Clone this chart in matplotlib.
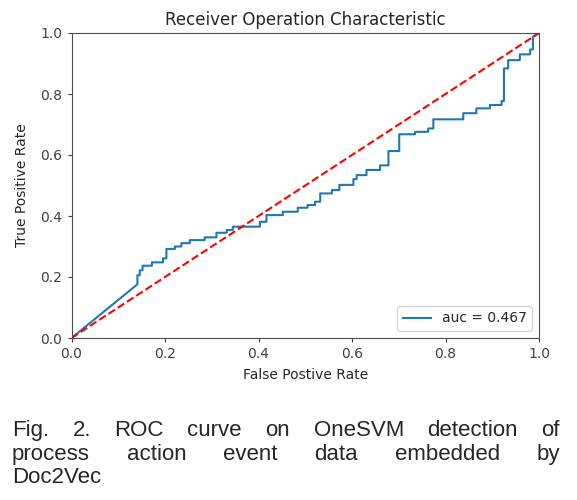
import matplotlib
matplotlib.use('Agg')
import matplotlib.pyplot as plt
import numpy as np

plt.rcParams['font.family'] = ['DejaVu Sans']

# ROC curve vertices
fpr = [0.0, 0.141, 0.141, 0.146, 0.146, 0.152, 0.152, 0.172, 0.172, 0.196, 0.196,
       0.203, 0.203, 0.221, 0.221, 0.235, 0.235, 0.253, 0.253, 0.285, 0.285,
       0.310, 0.310, 0.332, 0.332, 0.345, 0.345, 0.403, 0.403, 0.417, 0.417,
       0.452, 0.452, 0.484, 0.484, 0.505, 0.505, 0.521, 0.521, 0.532, 0.532,
       0.557, 0.557, 0.573, 0.573, 0.603, 0.603, 0.610, 0.610, 0.631, 0.631,
       0.660, 0.660, 0.678, 0.678, 0.701, 0.701, 0.735, 0.735, 0.763, 0.763,
       0.774, 0.774, 0.838, 0.838, 0.866, 0.866, 0.895, 0.895, 0.920, 0.920,
       0.925, 0.925, 0.934, 0.934, 0.959, 0.959, 0.981, 0.981, 0.987, 0.987, 1.0]
tpr = [0.0, 0.176, 0.206, 0.206, 0.222, 0.222, 0.237, 0.237, 0.248, 0.248, 0.261,
       0.261, 0.292, 0.292, 0.300, 0.300, 0.311, 0.311, 0.321, 0.321, 0.330,
       0.330, 0.345, 0.345, 0.354, 0.354, 0.365, 0.365, 0.381, 0.381, 0.403,
       0.403, 0.414, 0.414, 0.427, 0.427, 0.436, 0.436, 0.447, 0.447, 0.474,
       0.474, 0.485, 0.485, 0.502, 0.502, 0.521, 0.521, 0.534, 0.534, 0.551,
       0.551, 0.566, 0.566, 0.613, 0.613, 0.668, 0.668, 0.676, 0.676, 0.687,
       0.687, 0.717, 0.717, 0.737, 0.737, 0.753, 0.753, 0.764, 0.764, 0.777,
       0.777, 0.884, 0.884, 0.911, 0.911, 0.930, 0.930, 0.946, 0.946, 0.988, 1.0]
auc_value = 0.467
ticks = [0.0, 0.2, 0.4, 0.6, 0.8, 1.0]

caption_lines = ["Fig. 2. ROC curve on OneSVM detection of",
                 "process action event data embedded by",
                 "Doc2Vec"]

W, H, DPI = 577, 500, 100
fig = plt.figure(figsize=(W / DPI, H / DPI), dpi=DPI)
ax = fig.add_axes([71.5 / W, 1 - 338 / H, (539 - 71.5) / W, (338 - 33) / H])

ax.plot(fpr, tpr, color='#1f77b4', lw=1.5, label='auc = %0.3f' % auc_value)
ax.plot([0, 1], [0, 1], 'r--', lw=1.5)
ax.set_xlim(0, 1)
ax.set_ylim(0, 1)
ax.set_xticks(ticks)
ax.set_yticks(ticks)
ax.tick_params(labelsize=10, colors='0.25', length=3)
for s in ax.spines.values():
    s.set_color('0.3')
ax.set_title('Receiver Operation Characteristic', fontsize=12, color='0.15')
ax.set_xlabel('False Postive Rate', fontsize=10, color='0.15', labelpad=5)
ax.set_ylabel('True Positive Rate', fontsize=10, color='0.15', labelpad=8)
leg = ax.legend(loc='lower right', fontsize=10)
for t in leg.get_texts():
    t.set_color('0.15')

# justified caption below the chart
renderer = fig.canvas.get_renderer()
left_px, right_px = 12, 560
baselines = [436, 460, 483]
cap_size = 16
cap_font = dict(fontsize=cap_size, family=['Liberation Sans', 'DejaVu Sans'],
                color='0.15', va='baseline', ha='left')
for i, line in enumerate(caption_lines):
    words = line.split()
    y = 1 - baselines[i] / H
    texts = [fig.text(0, y, w, **cap_font) for w in words]
    widths = [t.get_window_extent(renderer).width for t in texts]
    if i < len(caption_lines) - 1 and len(words) > 1:
        gap = (right_px - left_px - sum(widths)) / (len(words) - 1)
    else:
        gap = 0.3 * cap_size * DPI / 72
    x = left_px
    for t, w in zip(texts, widths):
        t.set_x(x / W)
        x += w + gap

fig.savefig('out.png', dpi=DPI)
